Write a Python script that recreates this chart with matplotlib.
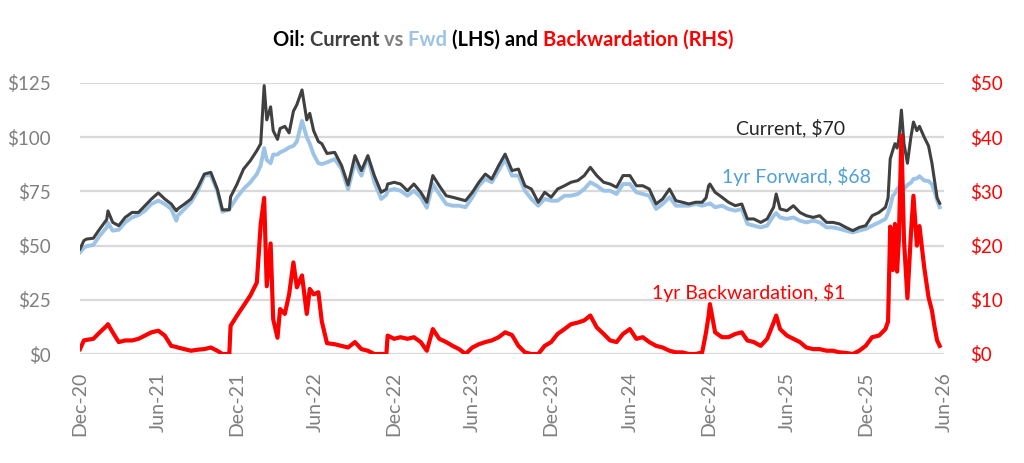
import numpy as np
import pandas as pd
import matplotlib
matplotlib.use("Agg")
import matplotlib.pyplot as plt
import matplotlib.dates as mdates

plt.rcParams['font.family'] = ['Lato', 'DejaVu Sans']

# values (LHS: $/bbl, RHS: backwardation $)
dates = [
    "2020-12-01", "2020-12-10", "2020-12-16", "2021-01-01", "2021-01-16", "2021-02-01",
    "2021-02-04", "2021-02-15", "2021-03-01", "2021-03-16", "2021-04-01", "2021-04-16",
    "2021-05-01", "2021-05-16", "2021-06-01", "2021-06-16", "2021-07-01", "2021-07-13",
    "2021-07-16", "2021-08-01", "2021-08-16", "2021-09-01", "2021-09-16", "2021-10-01",
    "2021-10-16", "2021-10-28", "2021-11-13", "2021-11-16", "2021-12-01", "2021-12-16",
    "2022-01-01", "2022-01-16", "2022-01-25", "2022-02-02", "2022-02-08", "2022-02-17",
    "2022-02-23", "2022-03-05", "2022-03-11", "2022-03-22", "2022-04-01", "2022-04-11",
    "2022-04-19", "2022-05-01", "2022-05-12", "2022-05-19", "2022-05-28", "2022-06-08",
    "2022-06-16", "2022-06-28", "2022-07-16", "2022-08-01", "2022-08-16", "2022-09-01",
    "2022-09-16", "2022-10-01", "2022-10-16", "2022-11-01", "2022-11-13", "2022-11-16",
    "2022-12-01", "2022-12-16", "2023-01-01", "2023-01-16", "2023-02-01", "2023-02-15",
    "2023-03-01", "2023-03-16", "2023-04-01", "2023-04-16", "2023-05-01", "2023-05-16",
    "2023-06-01", "2023-06-16", "2023-07-01", "2023-07-16", "2023-08-01", "2023-08-16",
    "2023-09-01", "2023-09-16", "2023-10-01", "2023-10-16", "2023-11-01", "2023-11-16",
    "2023-12-01", "2023-12-16", "2024-01-01", "2024-01-16", "2024-02-01", "2024-02-16",
    "2024-03-01", "2024-03-16", "2024-04-01", "2024-04-16", "2024-05-01", "2024-05-16",
    "2024-06-01", "2024-06-16", "2024-07-01", "2024-07-16", "2024-08-01", "2024-08-16",
    "2024-09-01", "2024-09-16", "2024-10-01", "2024-10-16", "2024-11-01", "2024-11-16",
    "2024-11-25", "2024-12-01", "2024-12-04", "2024-12-16", "2025-01-01", "2025-01-16",
    "2025-02-01", "2025-02-16", "2025-03-01", "2025-03-16", "2025-04-01", "2025-04-16",
    "2025-05-01", "2025-05-07", "2025-05-16", "2025-06-01", "2025-06-16", "2025-07-01",
    "2025-07-16", "2025-08-01", "2025-08-16", "2025-09-01", "2025-09-16", "2025-10-01",
    "2025-10-16", "2025-11-01", "2025-11-16", "2025-12-01", "2025-12-16", "2026-01-01",
    "2026-01-16", "2026-01-22", "2026-01-27", "2026-02-02", "2026-02-07", "2026-02-12",
    "2026-02-16", "2026-02-22", "2026-02-28", "2026-03-08", "2026-03-16", "2026-03-22",
    "2026-03-30", "2026-04-05", "2026-04-16", "2026-04-26", "2026-05-04", "2026-05-10",
    "2026-05-16", "2026-05-22",
]

current = [
    48.4, 52.3, 53.0, 53.4, 57.7, 62.0, 66.0, 60.7, 59.2, 63.0, 65.3, 65.3,
    68.4, 71.5, 74.3, 71.5, 69.2, 66.0, 66.9, 69.2, 71.5, 76.9, 83.0, 83.8,
    76.1, 66.5, 66.5, 72.5, 78.4, 85.3, 89.2, 93.8, 97.0, 123.8, 108.0, 114.0,
    103.0, 99.0, 104.0, 105.0, 102.0, 112.0, 115.0, 121.8, 108.0, 111.0, 103.0, 98.0,
    97.0, 92.5, 93.0, 86.9, 78.0, 91.5, 84.6, 91.5, 82.3, 74.6, 76.0, 78.4,
    79.2, 78.4, 75.3, 78.4, 74.6, 70.0, 82.3, 77.6, 73.0, 72.3, 71.5, 70.7,
    74.6, 79.2, 83.0, 80.7, 86.9, 92.2, 84.6, 85.3, 77.6, 76.1, 70.0, 74.6,
    72.3, 76.1, 77.6, 79.2, 80.0, 82.3, 86.1, 82.3, 79.2, 78.4, 76.9, 82.3,
    82.3, 77.6, 77.6, 76.1, 69.2, 71.5, 76.1, 70.7, 70.0, 69.2, 70.0, 70.0,
    72.0, 77.6, 78.4, 74.6, 72.3, 70.0, 68.4, 69.2, 62.3, 62.3, 60.7, 62.3,
    67.7, 73.8, 66.9, 66.1, 68.4, 65.3, 63.8, 63.0, 63.8, 60.7, 60.7, 60.0,
    58.4, 56.9, 58.4, 59.2, 63.8, 65.3, 67.7, 72.0, 90.0, 94.0, 97.0, 95.0,
    99.0, 112.5, 97.0, 88.0, 100.0, 107.0, 103.0, 105.0, 100.0, 96.0, 88.0, 80.0,
    72.0, 69.5,
]

forward = [
    46.9, 49.0, 49.7, 50.3, 54.6, 58.4, 60.5, 56.9, 57.3, 60.7, 63.0, 64.1,
    66.1, 69.2, 70.7, 69.2, 66.9, 61.5, 63.8, 66.9, 70.0, 75.3, 82.3, 82.6,
    75.3, 65.6, 66.8, 67.8, 72.3, 76.1, 79.2, 83.0, 87.0, 95.0, 89.5, 88.0,
    92.0, 92.0, 93.0, 94.0, 95.3, 96.0, 98.0, 107.5, 100.0, 97.0, 92.0, 88.0,
    87.6, 88.4, 89.9, 85.3, 76.0, 88.4, 82.3, 90.7, 79.2, 71.5, 73.5, 75.3,
    76.1, 75.3, 73.0, 75.3, 72.3, 67.5, 78.4, 73.8, 69.2, 68.4, 68.4, 67.7,
    72.3, 77.6, 80.7, 79.2, 84.6, 89.9, 82.3, 82.3, 75.3, 71.5, 68.4, 71.5,
    70.7, 70.7, 73.0, 73.0, 73.8, 76.1, 79.2, 77.6, 75.3, 75.3, 73.8, 78.4,
    78.4, 74.6, 73.8, 73.0, 66.9, 69.2, 72.3, 68.4, 68.4, 68.4, 69.2, 68.4,
    69.0, 69.2, 69.5, 67.7, 68.4, 66.9, 66.1, 66.9, 60.0, 59.2, 58.4, 59.2,
    63.8, 65.0, 63.0, 62.3, 63.0, 61.5, 60.7, 61.5, 60.7, 58.4, 58.4, 57.7,
    56.9, 56.1, 56.9, 57.7, 59.2, 60.7, 62.3, 65.0, 68.0, 73.0, 74.0, 76.0,
    77.0, 79.0, 76.0, 78.0, 79.0, 80.7, 81.0, 82.0, 80.0, 79.8, 78.3, 75.0,
    71.0, 67.7,
]

backwardation = [
    0.9, 2.5, 2.6, 2.8, 4.0, 5.2, 5.5, 4.0, 2.2, 2.5, 2.5, 2.8,
    3.4, 4.0, 4.3, 3.4, 1.5, 1.3, 1.2, 0.9, 0.6, 0.8, 0.9, 1.2,
    0.6, 0.0, 0.0, 5.2, 7.1, 8.9, 10.8, 13.2, 24.0, 28.8, 12.5, 20.4,
    6.4, 3.0, 8.3, 7.4, 11.0, 16.9, 12.3, 14.5, 7.4, 12.0, 11.0, 11.4,
    6.0, 2.0, 1.8, 1.5, 1.2, 2.2, 0.9, 0.6, 0.0, 0.0, 0.0, 3.4,
    2.8, 3.1, 2.8, 3.1, 2.2, 0.6, 4.6, 2.8, 2.2, 1.5, 0.9, 0.0,
    1.2, 1.8, 2.2, 2.5, 3.1, 4.0, 3.5, 1.5, 0.3, 0.0, 0.0, 1.5,
    2.2, 3.7, 4.6, 5.5, 5.8, 6.2, 7.1, 4.9, 3.7, 2.5, 2.2, 3.7,
    4.6, 2.8, 3.1, 2.2, 1.5, 1.2, 0.6, 0.3, 0.3, 0.0, 0.0, 0.3,
    4.0, 7.1, 9.2, 4.0, 3.1, 3.1, 3.7, 4.0, 2.5, 2.2, 1.5, 2.8,
    5.8, 7.1, 4.6, 3.4, 2.8, 2.2, 1.2, 0.9, 0.9, 0.6, 0.6, 0.3,
    0.2, 0.0, 0.6, 1.5, 3.1, 3.4, 4.6, 6.0, 23.5, 15.5, 24.0, 15.2,
    21.0, 40.3, 21.0, 10.3, 22.0, 29.2, 20.0, 23.6, 16.0, 10.5, 8.0, 5.0,
    2.5, 1.5,
]

lhs_ticks = [0, 25, 50, 75, 100, 125]
rhs_ticks = [0, 10, 20, 30, 40, 50]
x_ticks = ["2020-12-01", "2021-06-01", "2021-12-01", "2022-06-01", "2022-12-01", "2023-06-01",
           "2023-12-01", "2024-06-01", "2024-12-01", "2025-06-01", "2025-12-01", "2026-06-01"]

x = pd.to_datetime(dates)

GREY_TXT = '#7f7f7f'
CUR_C = '#404040'
FWD_C = '#9dc3e6'
RED = '#ff0000'

fig = plt.figure(figsize=(10.24, 4.63), dpi=100)
ax1 = fig.add_axes([80 / 1024, 1 - 354 / 463, 864 / 1024, 271 / 463])
ax2 = ax1.twinx()

ax1.plot(x, forward, color=FWD_C, lw=2.8, zorder=2)
ax1.plot(x, current, color=CUR_C, lw=2.2, zorder=3)
ax2.plot(x, backwardation, color=RED, lw=3.0)

ax1.set_ylim(0, 125)
ax2.set_ylim(0, 50)
ax1.set_xlim(pd.Timestamp(x_ticks[0]), pd.Timestamp(x_ticks[-1]))

ax1.set_yticks(lhs_ticks)
ax1.set_yticklabels(['$%d' % v for v in lhs_ticks])
ax2.set_yticks(rhs_ticks)
ax2.set_yticklabels(['$%d' % v for v in rhs_ticks])

xt = pd.to_datetime(x_ticks)
ax1.set_xticks(xt)
ax1.set_xticklabels([d.strftime('%b-%y') for d in xt], rotation=90)

ax1.grid(axis='y', color='#d9d9d9', lw=1.6)
ax1.set_axisbelow(True)
for ax in (ax1, ax2):
    for s in ax.spines.values():
        s.set_visible(False)
ax1.tick_params(axis='y', length=0, pad=21, labelsize=13.5, labelcolor=GREY_TXT)
ax1.tick_params(axis='x', length=0, pad=13, labelsize=14, labelcolor=GREY_TXT)
ax2.tick_params(axis='y', length=0, pad=19, labelsize=13.5, labelcolor=RED)

# series labels
fig.text(791 / 1024, 1 - 128 / 463, 'Current, $70', color='#262626', fontsize=14,
         ha='center', va='center')
fig.text(796 / 1024, 1 - 177 / 463, '1yr Forward, $68', color='#4f9fd8', fontsize=14,
         ha='center', va='center')
fig.text(749 / 1024, 1 - 292 / 463, '1yr Backwardation, $1', color=RED, fontsize=14,
         ha='center', va='center')

# multi-coloured title
parts = [('Oil: ', 'black'), ('Current ', CUR_C), ('vs ', '#808080'), ('Fwd ', FWD_C),
         ('(LHS) and ', 'black'), ('Backwardation (RHS)', RED)]
r = fig.canvas.get_renderer()
texts = []
for s, c in parts:
    t = fig.text(0, 1 - 40 / 463, s, color=c, fontsize=14.5, fontweight='bold', va='center')
    texts.append(t)
widths = [t.get_window_extent(r).width for t in texts]
xpos = 503.5 - sum(widths) / 2
for t, w in zip(texts, widths):
    t.set_x(xpos / 1024)
    xpos += w

fig.savefig('out.png', dpi=100)
